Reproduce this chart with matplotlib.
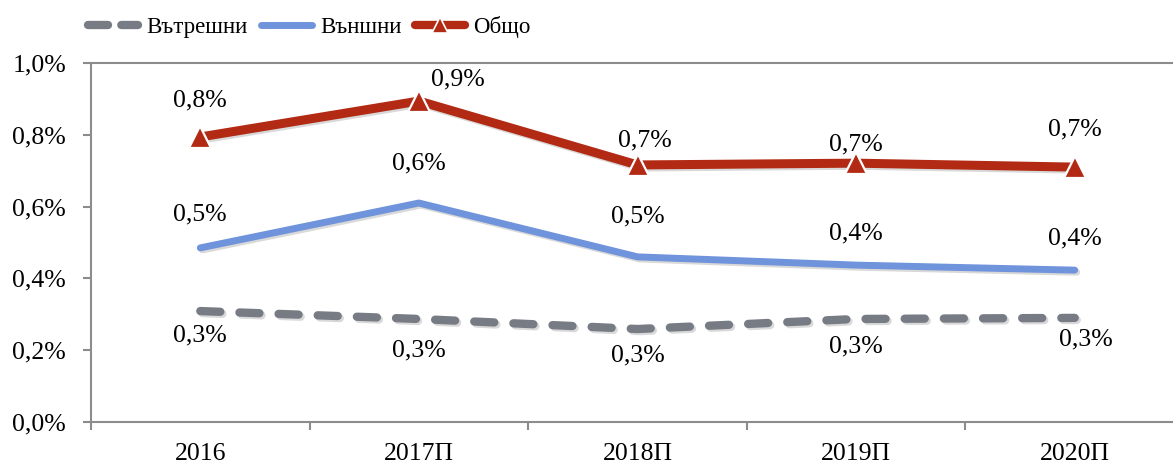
import matplotlib
matplotlib.use("Agg")
import matplotlib.pyplot as plt
from matplotlib.lines import Line2D
import matplotlib.patheffects as pe

categories = ["2016", "2017П", "2018П", "2019П", "2020П"]
domestic = [0.309, 0.287, 0.259, 0.287, 0.290]   # Вътрешни
external = [0.485, 0.610, 0.460, 0.437, 0.423]   # Външни
total = [0.794, 0.894, 0.716, 0.721, 0.710]      # Общо
yticks = [0.0, 0.2, 0.4, 0.6, 0.8, 1.0]

plt.rcParams['font.family'] = ['Liberation Serif', 'DejaVu Serif']
FS = 18.5
FS_LEG = 16.5

C_GRAY = "#777B84"
C_BLUE = "#6F94DB"
C_RED = "#B22A14"
C_SPINE = "#8C8C8C"

fig = plt.figure(figsize=(11.73, 4.65), dpi=100)
ax = fig.add_axes([91 / 1173, 43 / 465, 1093 / 1173, 359 / 465])

shadow = [pe.SimpleLineShadow(offset=(1.5, -1.5), alpha=0.15), pe.Normal()]

x = list(range(len(categories)))
l1, = ax.plot(x, domestic, color=C_GRAY, lw=6, dash_capstyle='round',
              dashes=(2.4, 2.3), zorder=3, path_effects=shadow)
l2, = ax.plot(x, external, color=C_BLUE, lw=5, solid_capstyle='round', zorder=3,
              path_effects=shadow)
l3, = ax.plot(x, total, color=C_RED, lw=6.5, solid_capstyle='round', zorder=4,
              path_effects=shadow)
ax.plot(x, total, linestyle='none', marker='^', markersize=16,
        markerfacecolor=C_RED, markeredgecolor='white', markeredgewidth=1.6, zorder=4.5)

def fmt(v):
    return f"{v:.1f}".replace('.', ',') + "%"

# label offsets in pixels (layout only)
off_total = [(0, 37), (39, 22), (7, 25), (0, 19), (0, 38)]
off_ext = [(0, 33), (0, 40), (0, 40), (0, 32), (0, 32)]
off_dom = [(0, -24), (0, -31), (0, -26), (0, -27), (11, -22)]

for series, offs in ((total, off_total), (external, off_ext), (domestic, off_dom)):
    for i, v in enumerate(series):
        ax.annotate(fmt(v), (i, v), xytext=offs[i], textcoords='offset pixels',
                    ha='center', va='center', fontsize=FS, color='black', zorder=5)

ax.set_xlim(-0.5, len(categories) - 0.5)
ax.set_ylim(0, 1.0)
ax.set_yticks(yticks)
ax.set_yticklabels([fmt(t) for t in yticks], fontsize=FS)
ax.set_xticks(x)
ax.set_xticklabels(categories, fontsize=FS)
ax.set_xticks([i - 0.5 for i in range(len(categories) + 1)], minor=True)
ax.tick_params(axis='x', which='major', length=0, pad=15)
ax.tick_params(axis='x', which='minor', length=6, width=1.5, color=C_SPINE, direction='out')
ax.tick_params(axis='y', length=6, width=1.5, color=C_SPINE, pad=12)

for s in ('left', 'bottom', 'top'):
    ax.spines[s].set_color(C_SPINE)
    ax.spines[s].set_linewidth(1.5)
ax.spines['right'].set_visible(False)
ax.patch.set_alpha(0)

h1 = Line2D([], [], color=C_GRAY, lw=6, dash_capstyle='round', dashes=(2.4, 1.6))
h2 = Line2D([], [], color=C_BLUE, lw=5, solid_capstyle='round')
h3 = Line2D([], [], color=C_RED, lw=6, solid_capstyle='round', marker='^',
            markersize=12, markerfacecolor=C_RED, markeredgecolor='white', markeredgewidth=1.2)
fig.legend([h1, h2, h3], ["Вътрешни", "Външни", "Общо"], loc='center left',
           bbox_to_anchor=(88 / 1173, 1 - 27 / 465), ncol=3, frameon=False,
           fontsize=FS_LEG, handlelength=2.2, handletextpad=0.35, columnspacing=0.6,
           borderpad=0, borderaxespad=0)

fig.savefig("out.png", dpi=100)
